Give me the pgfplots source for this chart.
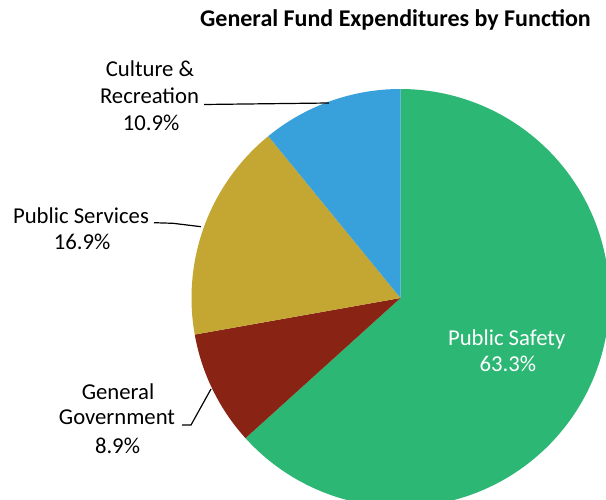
\documentclass[border=0pt]{standalone}
\usepackage{pgfplots}
\pgfplotsset{compat=1.18}
\usepackage{fontspec}
\setmainfont{Carlito}
\definecolor{cGreen}{RGB}{45,183,117}
\definecolor{cRed}{RGB}{137,36,21}
\definecolor{cTan}{RGB}{196,166,51}
\definecolor{cBlue}{RGB}{56,161,219}
% data (percent of general fund expenditures)
\def\vSafety{63.3}
\def\vGov{8.9}
\def\vServ{16.9}
\def\vCult{10.9}
\pgfmathsetmacro\aA{90}
\pgfmathsetmacro\aB{\aA-3.6*\vSafety}
\pgfmathsetmacro\aC{\aB-3.6*\vGov}
\pgfmathsetmacro\aD{\aC-3.6*\vServ}
\pgfmathsetmacro\aE{\aD-3.6*\vCult}
\def\cx{400.5}
\def\cy{201}
\def\rr{209}
\begin{document}
\begin{tikzpicture}
\begin{axis}[name=ax,
  width=606pt, height=499pt, scale only axis,
  xmin=0, xmax=606, ymin=0, ymax=499,
  hide axis, clip=true,
  every axis plot/.append style={no marks}]
% slices
\addplot[fill=cGreen, draw=none, domain=\aB:\aA, samples=150, variable=\t]
  ({\cx+\rr*cos(t)},{\cy+\rr*sin(t)}) -- (axis cs:\cx,\cy) -- cycle;
\addplot[fill=cRed, draw=none, domain=\aC:\aB, samples=40, variable=\t]
  ({\cx+\rr*cos(t)},{\cy+\rr*sin(t)}) -- (axis cs:\cx,\cy) -- cycle;
\addplot[fill=cTan, draw=none, domain=\aD:\aC, samples=60, variable=\t]
  ({\cx+\rr*cos(t)},{\cy+\rr*sin(t)}) -- (axis cs:\cx,\cy) -- cycle;
\addplot[fill=cBlue, draw=none, domain=\aE:\aD, samples=40, variable=\t]
  ({\cx+\rr*cos(t)},{\cy+\rr*sin(t)}) -- (axis cs:\cx,\cy) -- cycle;
% leader lines
\addplot[black, line width=1.2pt] coordinates {(204,394.5) (329,396)};
\addplot[black, line width=1.2pt] coordinates {(154,276.3) (173,275.7) (201,272.3)};
\addplot[black, line width=1.2pt] coordinates {(182,74) (191,74) (211,110)};
% title
\node[anchor=base, inner sep=0pt, font={\fontsize{24}{28}\selectfont\bfseries}] at (axis cs:395.5,472) {General Fund Expenditures by Function};
% labels
\begin{scope}[every node/.style={anchor=base, font={\fontsize{22.7}{27}\selectfont}, inner sep=0pt}]
\node at (axis cs:150,422) {Culture \&};
\node at (axis cs:149.5,395) {Recreation};
\node at (axis cs:151,368) {10.9\%};
\node at (axis cs:81,275) {Public Services};
\node at (axis cs:82,249) {16.9\%};
\node at (axis cs:118,100) {General};
\node at (axis cs:117,74) {Government};
\node at (axis cs:117.5,46) {8.9\%};
\node[text=white] at (axis cs:506.7,153) {Public Safety};
\node[text=white] at (axis cs:507.8,127) {63.3\%};
\end{scope}
\end{axis}
\pgfresetboundingbox
\path (ax.south west) rectangle (ax.north east);
\end{tikzpicture}
\end{document}
